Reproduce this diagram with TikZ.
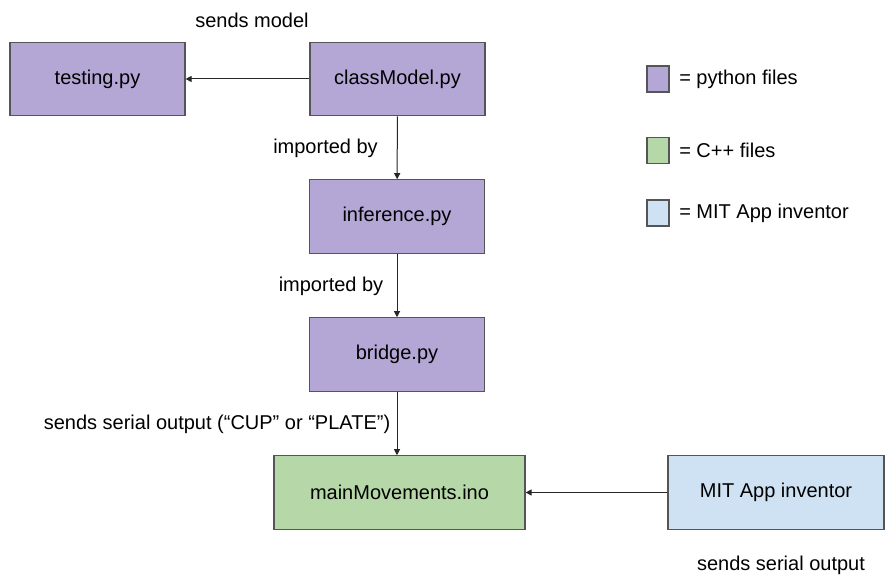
\documentclass[tikz,border=0pt]{standalone}
\usepackage{fontspec}
\setmainfont{Liberation Sans}
\usetikzlibrary{arrows.meta}
\definecolor{pyfill}{HTML}{B4A7D6}
\definecolor{cppfill}{HTML}{B6D7A8}
\definecolor{appfill}{HTML}{CFE2F3}
\definecolor{edgegray}{HTML}{555555}
\begin{document}
\begin{tikzpicture}[x=0.75pt,y=-0.75pt,
  filebox/.style={draw=edgegray,line width=0.9pt,minimum width=131.25pt,minimum height=55pt,inner sep=0pt,font=\fontsize{15}{18}\selectfont},
  pybox/.style={filebox,fill=pyfill},
  cppbox/.style={filebox,fill=cppfill},
  appbox/.style={filebox,fill=appfill},
  swatch/.style={draw=edgegray,line width=0.9pt,minimum width=16.5pt,minimum height=19.5pt,inner sep=0pt},
  lbl/.style={font=\fontsize{15}{18}\selectfont,inner sep=0pt},
  link/.style={draw=black!85,line width=0.75pt,-{Triangle[length=4.5pt,width=4.5pt]}}]
\useasboundingbox (0,0) rectangle (889,577);

% file boxes
\node[pybox] (testing) at (97.5,79) {testing.py};
\node[pybox] (classmodel) at (397.5,79) {classModel.py};
\node[pybox] (inference) at (397,216.5) {inference.py};
\node[pybox] (bridge) at (397,354.5) {bridge.py};
\node[cppbox,minimum width=188.25pt] (mainmov) at (399.5,492.5) {mainMovements.ino};
\node[appbox,minimum width=162pt] (mitapp) at (776,492.5) {MIT App inventor};

% connectors
\draw[link] (classmodel) -- (testing);
\draw[link] (classmodel) -- (inference);
\draw[link] (inference) -- (bridge);
\draw[link] (bridge.south) -- (bridge.south |- mainmov.north);
\draw[link] (mitapp) -- (mainmov);

% connector labels
\node[lbl] (lsendsmodel) at (252,20) {sends model};
\node[lbl] (limport1) at (325.5,148) {imported by};
\node[lbl] (limport2) at (331,286) {imported by};
\node[lbl] (lserial) at (217,424) {sends serial output (“CUP” or “PLATE”)};
\node[lbl] (lserialapp) at (781,565) {sends serial output};

% legend
\node[swatch,fill=pyfill] (kpy) at (658,79) {};
\node[swatch,fill=cppfill] (kcpp) at (658,150.5) {};
\node[swatch,fill=appfill] (kapp) at (658,213) {};
\node[lbl,anchor=west] (tpy) at (679,79) {= python files};
\node[lbl,anchor=west] (tcpp) at (679,150.5) {= C++ files};
\node[lbl,anchor=west] (tapp) at (679,213) {= MIT App inventor};
\end{tikzpicture}
\end{document}
